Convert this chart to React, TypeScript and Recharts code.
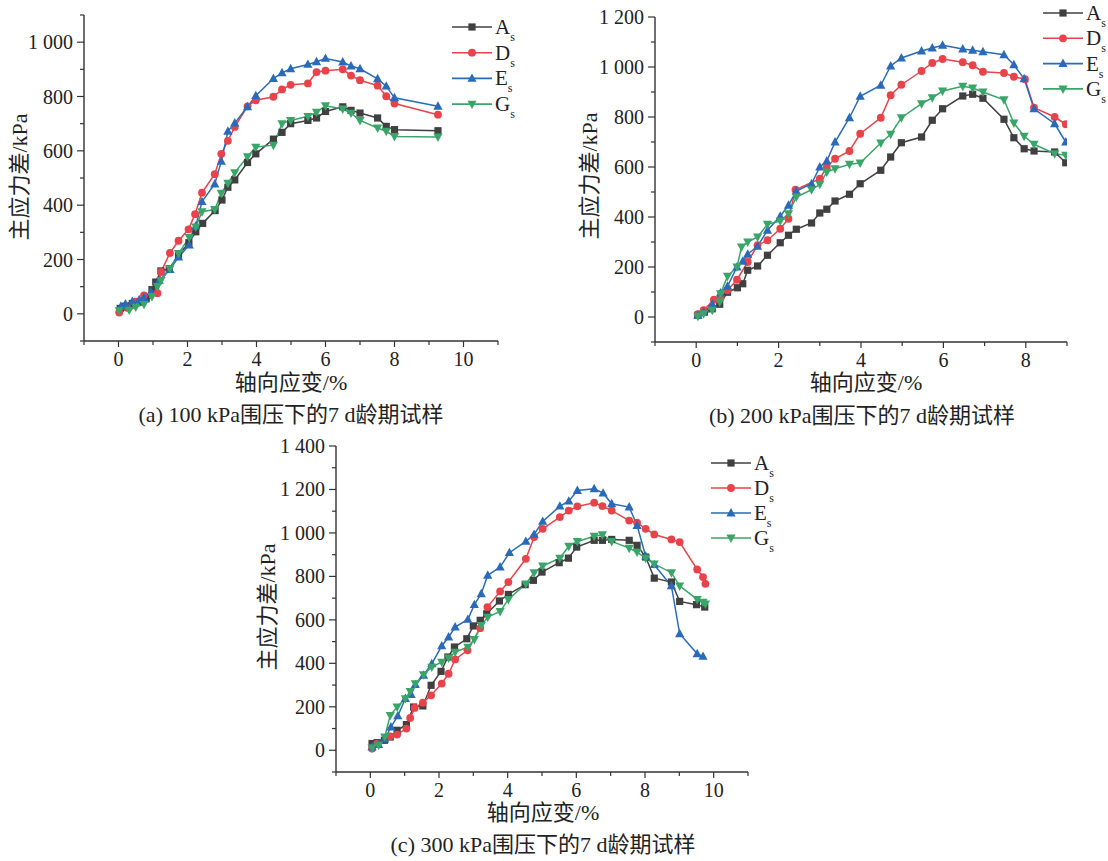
import React from 'react'
import { LineChart, Line, XAxis, YAxis } from 'recharts'

// strain (%) vs deviator stress (kPa)

// (a) 100 kPa
const a100As = [[0.05, 20], [0.2, 28], [0.4, 38], [0.6, 45], [0.8, 55], [0.97, 89], [1.08, 117], [1.23, 158], [1.47, 166], [1.74, 216], [2.04, 262], [2.24, 302], [2.44, 333], [2.8, 380], [3.0, 419], [3.17, 466], [3.37, 493], [3.74, 557], [3.98, 589], [4.49, 643], [4.74, 668], [4.99, 700], [5.49, 712], [5.74, 721], [6.0, 745], [6.5, 762], [6.74, 749], [7.0, 739], [7.51, 721], [7.76, 690], [8.0, 678], [9.26, 674]]
const a100Ds = [[0.02, 5], [0.25, 22], [0.5, 45], [0.74, 68], [1.13, 76], [1.23, 154], [1.49, 224], [1.74, 269], [2.03, 311], [2.22, 367], [2.42, 446], [2.79, 514], [2.98, 589], [3.17, 637], [3.37, 688], [3.74, 764], [3.98, 786], [4.49, 799], [4.74, 826], [4.99, 843], [5.49, 848], [5.74, 890], [6.0, 895], [6.5, 900], [6.74, 877], [7.0, 860], [7.51, 840], [7.76, 801], [8.0, 774], [9.26, 733]]
const a100Es = [[0.07, 28], [0.2, 36], [0.4, 45], [0.6, 52], [0.74, 59], [0.94, 80], [1.18, 123], [1.49, 163], [1.74, 209], [2.05, 253], [2.24, 323], [2.42, 413], [2.79, 478], [2.98, 561], [3.17, 672], [3.37, 702], [3.74, 762], [3.98, 803], [4.49, 866], [4.74, 887], [4.99, 902], [5.49, 918], [5.74, 928], [6.0, 940], [6.5, 927], [6.74, 912], [7.0, 902], [7.51, 865], [7.76, 838], [8.0, 795], [9.26, 764]]
const a100Gs = [[0.02, 12], [0.31, 14], [0.5, 25], [0.74, 35], [0.97, 64], [1.13, 101], [1.23, 123], [1.49, 166], [1.74, 222], [2.05, 281], [2.24, 320], [2.42, 376], [2.79, 384], [2.98, 444], [3.17, 481], [3.37, 520], [3.74, 579], [3.98, 614], [4.49, 621], [4.74, 700], [4.99, 712], [5.49, 727], [5.74, 742], [6.0, 766], [6.5, 754], [6.74, 739], [7.0, 712], [7.51, 684], [7.76, 672], [8.0, 653], [9.26, 651]]

// (b) 200 kPa
const b200As = [[0.04, 7], [0.2, 20], [0.39, 33], [0.57, 51], [0.76, 99], [1.0, 117], [1.13, 133], [1.25, 187], [1.49, 204], [1.73, 247], [2.04, 297], [2.24, 327], [2.43, 351], [2.8, 376], [3.0, 416], [3.17, 431], [3.37, 464], [3.72, 491], [3.98, 533], [4.48, 587], [4.72, 640], [4.98, 697], [5.47, 720], [5.73, 787], [5.98, 833], [6.47, 884], [6.71, 891], [6.96, 875], [7.47, 791], [7.71, 717], [7.96, 673], [8.2, 664], [8.7, 660], [8.97, 617]]
const b200Ds = [[0.04, 11], [0.18, 27], [0.43, 69], [0.59, 76], [0.76, 107], [0.99, 149], [1.25, 220], [1.49, 287], [1.73, 307], [2.04, 353], [2.24, 393], [2.41, 509], [3.0, 553], [3.17, 600], [3.37, 633], [3.72, 664], [3.98, 733], [4.48, 797], [4.72, 887], [4.98, 929], [5.47, 984], [5.73, 1016], [5.98, 1032], [6.47, 1019], [6.71, 1007], [6.96, 981], [7.47, 976], [7.71, 961], [7.98, 951], [8.2, 837], [8.7, 800], [8.97, 771]]
const b200Es = [[0.04, 7], [0.18, 20], [0.39, 51], [0.59, 96], [0.76, 123], [0.99, 200], [1.13, 223], [1.25, 251], [1.49, 283], [1.73, 347], [2.04, 403], [2.24, 447], [2.43, 504], [2.8, 533], [3.0, 600], [3.17, 624], [3.37, 700], [3.72, 797], [3.98, 883], [4.48, 927], [4.72, 1004], [4.98, 1036], [5.47, 1064], [5.73, 1076], [5.98, 1087], [6.47, 1072], [6.71, 1067], [6.96, 1061], [7.47, 1049], [7.71, 1009], [7.96, 953], [8.2, 833], [8.7, 773], [8.97, 700]]
const b200Gs = [[0.04, 3], [0.18, 13], [0.39, 27], [0.57, 60], [0.59, 93], [0.76, 163], [0.99, 200], [1.1, 280], [1.25, 300], [1.49, 320], [1.73, 371], [2.04, 384], [2.24, 413], [2.43, 480], [2.8, 509], [3.0, 531], [3.17, 580], [3.37, 593], [3.72, 611], [3.98, 616], [4.48, 696], [4.72, 731], [4.98, 797], [5.47, 853], [5.73, 877], [5.98, 904], [6.47, 923], [6.71, 916], [6.96, 900], [7.47, 869], [7.71, 776], [7.96, 723], [8.2, 691], [8.7, 653], [8.97, 647]]

// (c) 300 kPa
const c300As = [[0.05, 31], [0.2, 35], [0.41, 46], [0.58, 61], [0.78, 92], [1.05, 118], [1.26, 199], [1.53, 204], [1.77, 299], [2.06, 363], [2.26, 429], [2.45, 475], [2.81, 513], [3.0, 572], [3.2, 598], [3.39, 628], [3.76, 687], [4.02, 717], [4.51, 762], [4.75, 782], [5.0, 820], [5.5, 863], [5.77, 884], [6.01, 935], [6.52, 966], [6.76, 966], [7.03, 970], [7.54, 966], [7.77, 943], [8.02, 889], [8.27, 792], [8.77, 774], [9.01, 685], [9.5, 670], [9.74, 659]]
const c300Ds = [[0.05, 8], [0.2, 31], [0.58, 64], [0.78, 72], [1.05, 100], [1.16, 149], [1.29, 195], [1.53, 219], [1.77, 253], [2.08, 307], [2.28, 352], [2.47, 418], [2.83, 460], [3.2, 562], [3.41, 659], [3.78, 731], [4.02, 774], [4.53, 881], [4.77, 981], [5.02, 1019], [5.52, 1073], [5.78, 1103], [6.03, 1122], [6.52, 1139], [6.76, 1123], [7.03, 1103], [7.54, 1057], [7.77, 1047], [8.02, 1019], [8.27, 993], [8.77, 970], [9.01, 958], [9.52, 832], [9.69, 797], [9.76, 766]]
const c300Es = [[0.05, 15], [0.24, 26], [0.42, 51], [0.6, 107], [0.8, 158], [1.02, 238], [1.19, 256], [1.31, 302], [1.55, 345], [1.79, 398], [2.08, 480], [2.28, 521], [2.47, 567], [2.84, 602], [3.03, 670], [3.23, 720], [3.42, 805], [3.78, 843], [4.05, 909], [4.53, 961], [4.77, 993], [5.02, 1053], [5.52, 1123], [5.78, 1146], [6.03, 1195], [6.52, 1203], [6.78, 1183], [7.03, 1134], [7.54, 1119], [7.77, 1034], [8.02, 893], [8.27, 854], [8.77, 756], [9.01, 536], [9.52, 444], [9.69, 432]]
const c300Gs = [[0.05, 11], [0.24, 23], [0.42, 61], [0.58, 161], [0.78, 199], [1.02, 238], [1.16, 271], [1.31, 307], [1.55, 348], [1.79, 383], [2.08, 406], [2.28, 425], [2.47, 452], [2.84, 475], [3.03, 510], [3.23, 575], [3.42, 613], [3.78, 639], [4.02, 694], [4.53, 766], [4.77, 817], [5.02, 848], [5.52, 884], [5.78, 939], [6.03, 961], [6.52, 985], [6.76, 992], [7.03, 961], [7.54, 930], [7.77, 912], [8.02, 884], [8.27, 858], [8.77, 817], [9.01, 756], [9.52, 694], [9.69, 682], [9.76, 674]]

const seriesNames = ['A', 'D', 'E', 'G']
const xTicks11 = [-1, 0, 1, 2, 3, 4, 5, 6, 7, 8, 9, 10, 11]
const xTicks9 = [-1, 0, 1, 2, 3, 4, 5, 6, 7, 8, 9]
const yTicks1100 = [-100, 0, 100, 200, 300, 400, 500, 600, 700, 800, 900, 1000, 1100]
const yTicks1200 = [...yTicks1100, 1200]
const yTicks1400 = [...yTicks1200, 1300, 1400]

const COLORS = ['#404040', '#e8434b', '#2a6ab8', '#3aa568']
const SHAPES = ['square', 'circle', 'up', 'down']
const FONT = "'Liberation Serif', 'Times New Roman', 'Noto Sans CJK SC', serif"
const AXIS = '#333'

function marker(shape: string, color: string, cx: number, cy: number, key?: any) {
  if (shape === 'square') return <rect key={key} x={cx - 3.6} y={cy - 3.6} width={7.2} height={7.2} fill={color} />
  if (shape === 'circle') return <circle key={key} cx={cx} cy={cy} r={3.9} fill={color} />
  if (shape === 'up')
    return <polygon key={key} points={`${cx},${cy - 5} ${cx - 4.6},${cy + 3.4} ${cx + 4.6},${cy + 3.4}`} fill={color} />
  return <polygon key={key} points={`${cx},${cy + 5} ${cx - 4.6},${cy - 3.4} ${cx + 4.6},${cy - 3.4}`} fill={color} />
}

const makeDot = (shape: string, color: string) => (props: any) => {
  const { cx, cy, index } = props
  if (cx == null || cy == null) return <g key={`d-${index}`} />
  return marker(shape, color, cx, cy, `d-${index}`)
}

const fmt = (v: number) => (v >= 1000 ? `${Math.floor(v / 1000)} ${String(v % 1000).padStart(3, '0')}` : String(v))

function XTick(props: any) {
  const { x, y, payload, maxLabel } = props
  const v = payload.value
  const major = v >= 0 && v % 2 === 0 && v <= maxLabel
  return (
    <g>
      <line x1={x} y1={y} x2={x} y2={y + (major ? 6 : 4)} stroke={AXIS} strokeWidth={1.2} />
      {major && (
        <text x={x} y={y + 25} textAnchor="middle" fontFamily={FONT} fontSize={20} fill="#222">
          {v}
        </text>
      )}
    </g>
  )
}

function YTick(props: any) {
  const { x, y, payload } = props
  const v = payload.value
  const major = v >= 0 && v % 200 === 0
  return (
    <g>
      <line x1={x} y1={y} x2={x - (major ? 7 : 4)} y2={y} stroke={AXIS} strokeWidth={1.2} />
      {major && (
        <text x={x - 11} y={y + 7} textAnchor="end" fontFamily={FONT} fontSize={20} fill="#222">
          {fmt(v)}
        </text>
      )}
    </g>
  )
}

function Legend({ left, top, gap }: { left: number; top: number; gap: number }) {
  return (
    <svg style={{ position: 'absolute', left, top, overflow: 'visible' }} width={70} height={gap * 4}>
      {seriesNames.map((n, i) => {
        const cy = i * gap
        return (
          <g key={n}>
            <line x1={0} y1={cy} x2={40} y2={cy} stroke={COLORS[i]} strokeWidth={1.6} />
            {marker(SHAPES[i], COLORS[i], 20, cy)}
            <text x={43} y={cy + 7} fontFamily={FONT} fontSize={21} fill="#222">
              {n}
              <tspan fontSize={12} dy={7}>s</tspan>
            </text>
          </g>
        )
      })}
    </svg>
  )
}

function Panel({ box, plot, xDomain, xTicks, maxLabel, yDomain, yTicks, data }: any) {
  const yAxisW = 60
  const xAxisH = 30
  const margin = {
    top: plot.top - box.top,
    left: plot.left - box.left - yAxisW,
    right: box.left + box.w - plot.right,
    bottom: box.top + box.h - plot.bottom - xAxisH,
  }
  return (
    <div style={{ position: 'absolute', left: box.left, top: box.top }}>
      <LineChart width={box.w} height={box.h} margin={margin}>
        <XAxis
          type="number"
          dataKey="x"
          domain={xDomain}
          ticks={xTicks}
          interval={0}
          allowDataOverflow
          height={xAxisH}
          tickSize={0}
          tickMargin={0}
          tickLine={false}
          tick={<XTick maxLabel={maxLabel} />}
          axisLine={{ stroke: AXIS, strokeWidth: 1.4 }}
        />
        <YAxis
          type="number"
          dataKey="y"
          domain={yDomain}
          ticks={yTicks}
          interval={0}
          allowDataOverflow
          width={yAxisW}
          tickSize={0}
          tickMargin={0}
          tickLine={false}
          tick={<YTick />}
          axisLine={{ stroke: AXIS, strokeWidth: 1.4 }}
        />
        {data.map((pts: number[][], i: number) => (
          <Line
            key={seriesNames[i]}
            name={seriesNames[i] + 's'}
            data={pts.map(([x, y]) => ({ x, y }))}
            dataKey="y"
            type="linear"
            stroke={COLORS[i]}
            strokeWidth={1.5}
            dot={makeDot(SHAPES[i], COLORS[i])}
            activeDot={false}
            isAnimationActive={false}
          />
        ))}
      </LineChart>
    </div>
  )
}

const textStyle: React.CSSProperties = {
  position: 'absolute',
  fontFamily: FONT,
  fontSize: 22,
  color: '#222',
  whiteSpace: 'nowrap',
  lineHeight: 1,
}

function Label({ x, y, text, rotate }: { x: number; y: number; text: string; rotate?: boolean }) {
  return (
    <div
      style={{
        ...textStyle,
        left: x,
        top: y,
        transform: `translate(-50%, -50%)${rotate ? ' rotate(-90deg)' : ''}`,
      }}
    >
      {text}
    </div>
  )
}

export default function App() {
  return (
    <div style={{ position: 'absolute', left: 0, top: 0, width: 1108, height: 861, background: '#fff', overflow: 'hidden' }}>
      <Panel
        box={{ left: 0, top: 0, w: 540, h: 400 }}
        plot={{ left: 84, right: 498, top: 15, bottom: 341 }}
        xDomain={[-1, 11]}
        xTicks={xTicks11}
        maxLabel={10}
        yDomain={[-100, 1100]}
        yTicks={yTicks1100}
        data={[a100As, a100Ds, a100Es, a100Gs]}
      />
      <Panel
        box={{ left: 560, top: 0, w: 548, h: 400 }}
        plot={{ left: 655, right: 1067, top: 17, bottom: 342 }}
        xDomain={[-1, 9]}
        xTicks={xTicks9}
        maxLabel={8}
        yDomain={[-100, 1200]}
        yTicks={yTicks1200}
        data={[b200As, b200Ds, b200Es, b200Gs]}
      />
      <Panel
        box={{ left: 250, top: 430, w: 540, h: 400 }}
        plot={{ left: 336, right: 748, top: 446, bottom: 772 }}
        xDomain={[-1, 11]}
        xTicks={xTicks11}
        maxLabel={10}
        yDomain={[-100, 1400]}
        yTicks={yTicks1400}
        data={[c300As, c300Ds, c300Es, c300Gs]}
      />

      <Legend left={452} top={27} gap={25.7} />
      <Legend left={1043} top={13} gap={25.3} />
      <Legend left={711} top={463} gap={25} />

      <Label x={20} y={177} text="主应力差/kPa" rotate />
      <Label x={291} y={383} text="轴向应变/%" />
      <Label x={291} y={415} text="(a) 100 kPa围压下的7 d龄期试样" />

      <Label x={590} y={176} text="主应力差/kPa" rotate />
      <Label x={866} y={383} text="轴向应变/%" />
      <Label x={862} y={416} text="(b) 200 kPa围压下的7 d龄期试样" />

      <Label x={268} y={607} text="主应力差/kPa" rotate />
      <Label x={543} y={813} text="轴向应变/%" />
      <Label x={543} y={845} text="(c) 300 kPa围压下的7 d龄期试样" />
    </div>
  )
}
